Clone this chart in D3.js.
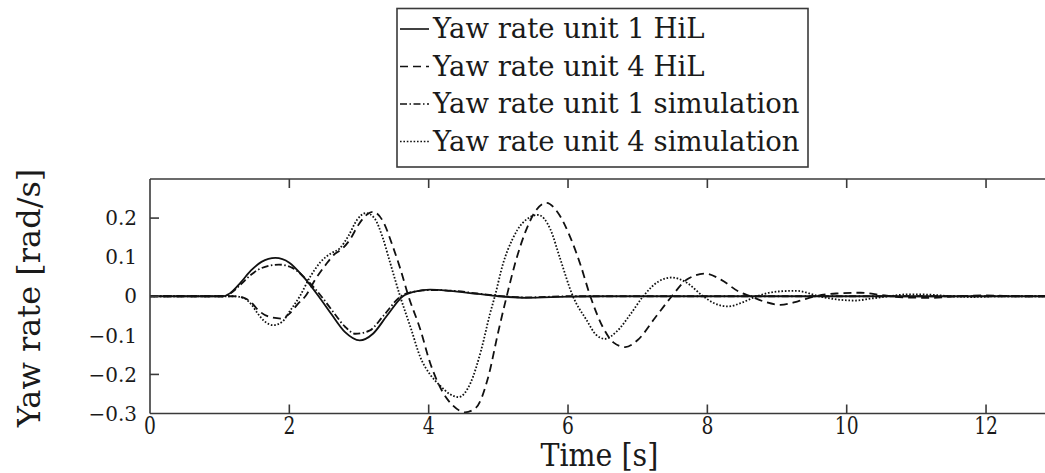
<!DOCTYPE html>
<html>
<head>
<meta charset="utf-8">
<script src="https://cdn.jsdelivr.net/npm/d3@7"></script>
<style>
  body { margin: 0; background: #fff; }
  svg { display: block; }
</style>
</head>
<body>
<svg id="chart" width="1045" height="473"></svg>
<script>
// ------------------- Data -------------------
const xTicks = [0, 2, 4, 6, 8, 10, 12];
const yTickLabels = [0.2, 0.1, 0, -0.1, -0.2, -0.3];
const yTickMarks = [0.2, 0, -0.2];

const seriesNames = [
  "Yaw rate unit 1 HiL",
  "Yaw rate unit 4 HiL",
  "Yaw rate unit 1 simulation",
  "Yaw rate unit 4 simulation"
];

// [time s, yaw rate rad/s]
const unit1Hil = [[0,0],[1.05,0],[1.15,0.008],[1.3,0.035],[1.45,0.066],[1.6,0.088],[1.8,0.098],
  [2.0,0.086],[2.2,0.05],[2.42,0],[2.6,-0.045],[2.8,-0.092],[3.01,-0.113],[3.2,-0.096],[3.4,-0.05],
  [3.63,0],[3.8,0.012],[4.02,0.017],[4.3,0.014],[4.7,0.006],[5.0,0],[5.4,-0.004],[6.0,-0.001],[6.5,0],[13,0]];

const unit4Hil = [[0,0],[1.2,0],[1.35,-0.004],[1.45,-0.015],[1.55,-0.035],[1.7,-0.052],[1.88,-0.057],
  [2.0,-0.045],[2.12,-0.02],[2.23,0],[2.38,0.045],[2.52,0.08],[2.65,0.108],[2.75,0.12],[2.87,0.145],
  [3.0,0.185],[3.12,0.21],[3.2,0.216],[3.35,0.19],[3.48,0.13],[3.59,0.072],[3.71,0],[3.88,-0.085],
  [4.02,-0.17],[4.2,-0.245],[4.35,-0.28],[4.52,-0.297],[4.68,-0.285],[4.85,-0.21],[5.0,-0.09],[5.12,0],
  [5.25,0.09],[5.4,0.17],[5.55,0.222],[5.69,0.239],[5.85,0.215],[6.03,0.152],[6.18,0.08],[6.32,0],
  [6.5,-0.079],[6.65,-0.118],[6.82,-0.13],[7.0,-0.112],[7.25,-0.055],[7.49,0],[7.7,0.042],[7.97,0.058],
  [8.2,0.042],[8.45,0.012],[8.62,0],[8.82,-0.014],[9.05,-0.022],[9.3,-0.013],[9.55,0],[9.85,0.007],
  [10.2,0.009],[10.5,0.003],[10.8,-0.003],[11.2,-0.004],[11.6,0],[12.0,0.002],[12.5,0],[13,0]];

const unit1Sim = [[0,0],[1.05,0],[1.15,0.007],[1.3,0.03],[1.45,0.055],[1.6,0.072],[1.85,0.081],
  [2.05,0.072],[2.25,0.042],[2.45,0.002],[2.65,-0.045],[2.8,-0.078],[2.95,-0.096],[3.15,-0.088],
  [3.35,-0.05],[3.6,0],[3.8,0.012],[4.05,0.016],[4.35,0.014],[4.7,0.007],[5.0,0.001],[5.4,-0.003],[6.0,0],[13,0]];

const unit4Sim = [[0,0],[1.2,0],[1.35,-0.005],[1.45,-0.02],[1.55,-0.045],[1.65,-0.065],[1.77,-0.074],
  [1.9,-0.065],[2.0,-0.04],[2.15,0],[2.3,0.05],[2.45,0.088],[2.6,0.11],[2.72,0.122],[2.85,0.155],
  [2.97,0.195],[3.1,0.213],[3.22,0.2],[3.34,0.15],[3.44,0.09],[3.59,0],[3.75,-0.085],[3.88,-0.156],
  [4.02,-0.2],[4.16,-0.228],[4.3,-0.25],[4.43,-0.258],[4.6,-0.222],[4.75,-0.14],[4.88,-0.045],[4.95,0],
  [5.07,0.085],[5.2,0.145],[5.35,0.188],[5.57,0.208],[5.75,0.17],[5.88,0.1],[6.07,0],[6.27,-0.062],
  [6.4,-0.098],[6.53,-0.109],[6.7,-0.09],[6.9,-0.045],[7.08,0],[7.3,0.038],[7.49,0.048],[7.7,0.035],
  [7.94,0],[8.1,-0.018],[8.3,-0.026],[8.5,-0.016],[8.71,0],[9.0,0.012],[9.28,0.014],[9.45,0.008],
  [9.6,0],[9.85,-0.008],[10.12,-0.011],[10.35,-0.006],[10.6,0],[10.9,0.005],[11.2,0.004],[11.5,0],
  [11.8,-0.002],[12.2,0],[13,0]];

// ------------------- Setup -------------------
const svg = d3.select("#chart");
const plotLeft = 150, plotTop = 179, plotBottom = 413.5;
const pxPerSec = 69.67;
const serif = "DejaVu Serif";

const x = d3.scaleLinear().domain([0, 13]).range([plotLeft, plotLeft + 13 * pxPerSec]);
const y = d3.scaleLinear().domain([-0.3, 0.3]).range([plotBottom, plotTop]);

const ink = "#111";
const textInk = "#1a1a1a";
const frameColor = "#3a3a3a";

svg.append("defs").append("clipPath").attr("id", "plot-clip")
  .append("rect")
    .attr("x", plotLeft).attr("y", plotTop)
    .attr("width", x(13) - plotLeft).attr("height", plotBottom - plotTop);

const styles = [
  { dash: null },            // unit 1 HiL: solid
  { dash: "8,5" },           // unit 4 HiL: dashed
  { dash: "7,2.5,1.5,2.5" }, // unit 1 sim: dash-dot
  { dash: "1.6,1.8" }        // unit 4 sim: dotted
];
const allSeries = [unit1Hil, unit4Hil, unit1Sim, unit4Sim];

// ------------------- Lines -------------------
const line = d3.line()
  .x(d => x(d[0]))
  .y(d => y(d[1]))
  .curve(d3.curveMonotoneX);

const plot = svg.append("g").attr("clip-path", "url(#plot-clip)");

// draw dotted/dashed first, then the unit 1 lines on top
[3, 1, 2, 0].forEach(i => {
  plot.append("path")
    .datum(allSeries[i])
    .attr("d", line)
    .attr("fill", "none")
    .attr("stroke", ink)
    .attr("stroke-width", 1.8)
    .attr("stroke-dasharray", styles[i].dash);
});

// ------------------- Frame & ticks -------------------
const frame = svg.append("g")
  .attr("stroke", frameColor)
  .attr("stroke-width", 1.6)
  .attr("fill", "none");

frame.append("line").attr("x1", plotLeft).attr("x2", 1045).attr("y1", plotTop).attr("y2", plotTop);
frame.append("line").attr("x1", plotLeft).attr("x2", 1045).attr("y1", plotBottom).attr("y2", plotBottom);
frame.append("line").attr("x1", plotLeft).attr("x2", plotLeft).attr("y1", plotTop).attr("y2", plotBottom);

frame.selectAll("line.xt-bottom")
  .data(xTicks.slice(1))
  .enter().append("line")
    .attr("class", "xt-bottom")
    .attr("x1", d => x(d)).attr("x2", d => x(d))
    .attr("y1", plotBottom).attr("y2", plotBottom - 9);

frame.selectAll("line.xt-top")
  .data(xTicks.slice(1))
  .enter().append("line")
    .attr("class", "xt-top")
    .attr("x1", d => x(d)).attr("x2", d => x(d))
    .attr("y1", plotTop).attr("y2", plotTop + 9);

frame.selectAll("line.yt")
  .data(yTickMarks)
  .enter().append("line")
    .attr("class", "yt")
    .attr("x1", plotLeft).attr("x2", plotLeft + 9)
    .attr("y1", d => y(d)).attr("y2", d => y(d));

// ------------------- Tick labels -------------------
const fmtY = d => d === 0 ? "0" : (d < 0 ? "\u2212" : "") + Math.abs(d).toFixed(1);

svg.selectAll("text.ylab")
  .data(yTickLabels)
  .enter().append("text")
    .attr("class", "ylab")
    .attr("x", 137)
    .attr("y", d => y(d))
    .attr("dy", "0.36em")
    .attr("text-anchor", "end")
    .attr("font-family", serif)
    .attr("font-size", "20px")
    .attr("fill", textInk)
    .text(fmtY);

svg.selectAll("text.xlab")
  .data(xTicks)
  .enter().append("text")
    .attr("class", "xlab")
    .attr("transform", d => `translate(${x(d)},434) scale(0.78,1)`)
    .attr("text-anchor", "middle")
    .attr("font-family", serif)
    .attr("font-size", "24px")
    .attr("fill", textInk)
    .text(d => d);

// ------------------- Axis titles -------------------
svg.append("text")
  .attr("transform", `translate(${x(6.45)},466) scale(0.92,1)`)
  .attr("text-anchor", "middle")
  .attr("font-family", serif)
  .attr("font-size", "31px")
  .attr("fill", textInk)
  .text("Time [s]");

svg.append("text")
  .attr("transform", "translate(40,298) rotate(-90)")
  .attr("text-anchor", "middle")
  .attr("font-family", serif)
  .attr("font-size", "32px")
  .attr("fill", textInk)
  .text("Yaw rate [rad/s]");

// ------------------- Legend -------------------
const legend = svg.append("g").attr("class", "legend");

legend.append("rect")
  .attr("x", 397).attr("y", 8.5)
  .attr("width", 411).attr("height", 158.5)
  .attr("fill", "#fff")
  .attr("stroke", frameColor)
  .attr("stroke-width", 1.6);

const rowBase = [38, 75.5, 113, 150.5];

legend.selectAll("line.sample")
  .data(seriesNames)
  .enter().append("line")
    .attr("class", "sample")
    .attr("x1", 400).attr("x2", 429)
    .attr("y1", (d, i) => rowBase[i] - 9)
    .attr("y2", (d, i) => rowBase[i] - 9)
    .attr("stroke", ink)
    .attr("stroke-width", 1.6)
    .attr("stroke-dasharray", (d, i) => styles[i].dash);

legend.selectAll("text.entry")
  .data(seriesNames)
  .enter().append("text")
    .attr("class", "entry")
    .attr("x", 433)
    .attr("y", (d, i) => rowBase[i])
    .attr("font-family", serif)
    .attr("font-size", "27.5px")
    .attr("fill", textInk)
    .text(d => d);
</script>
</body>
</html>
